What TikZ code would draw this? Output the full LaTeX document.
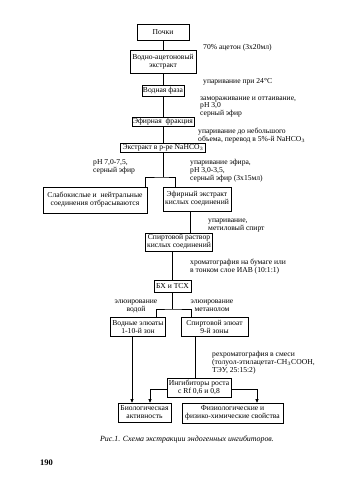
\documentclass[tikz,border=0pt]{standalone}
\usepackage{fontspec}
\setmainfont{Liberation Serif}
\usetikzlibrary{arrows.meta, calc}
\newcommand{\fs}{\fontsize{7.6}{8}\selectfont}
\tikzset{
  block/.style={draw, line width=0.75pt, inner sep=1pt, align=center, font=\fs},
  note/.style={inner sep=0pt, align=left, anchor=north west, font=\fs},
  cnote/.style={note, align=center, anchor=north},
  link/.style={line width=0.6pt},
  arr/.style={link, -{Triangle[length=3.4pt, width=3pt]}}
}
\begin{document}
\begin{tikzpicture}[x=1pt, y=-1pt]
\useasboundingbox[fill=white] (0,0) rectangle (346,480);
\node[block, minimum width=52pt, minimum height=16pt] (pochki) at (163,32) {Почки};
\node[block, minimum width=66pt, minimum height=23pt] (vodac) at (163,61.5) {Водно-ацетоновый\\экстракт};
\node[block, minimum width=39pt, minimum height=11pt] (vodfaza) at (163,91) {Водная фаза};
\node[block, minimum width=59pt, minimum height=9pt] (efirfr) at (163,122) {Эфирная\ \ фракция};
\node[block, minimum width=85pt, minimum height=9pt] (nahco) at (163,148) {Экстракт в р-ре NaHCO$_3$};
\node[block, minimum width=104pt, minimum height=26pt] (slabo) at (95,200) {Слабокислые и\ \ нейтральные\\соединения отбрасываются};
\node[block, minimum width=68pt, minimum height=24pt] (efirext) at (197,199) {Эфирный экстракт\\кислых соединений};
\node[block, minimum width=67pt, minimum height=18pt] (spirtr) at (179,242) {Спиртовой раствор\\кислых соединений};
\node[block, minimum width=37pt, minimum height=12pt] (bx) at (172.5,286) {БХ и ТСХ};
\node[block, minimum width=55pt, minimum height=19pt] (vodel) at (138,327) {Водные элюаты\\1-10-й зон};
\node[block, minimum width=67pt, minimum height=19pt] (spirel) at (214.5,327) {Спиртовой элюат\\9-й зоны};
\node[block, minimum width=64pt, minimum height=19pt] (ingib) at (199,387.5) {Ингибиторы роста\\с Rf 0,6 и 0,8};
\node[block, minimum width=53pt, minimum height=19pt] (bio) at (144.5,412.5) {Биологическая\\активность};
\node[block, minimum width=101pt, minimum height=20pt] (fiz) at (232.5,413) {Физиологические и\\физико-химические свойства};

\node[note] (acet) at (203,44.5) {70\% ацетон (3х20мл)};
\node[note] (evap) at (203,78.5) {упаривание при 24°C};
\node[note, font=\fontsize{7.6}{7.6}\selectfont] (freeze) at (200,96.5) {замораживание и оттаивание,\\pH 3,0\\серный эфир};
\node[note, font=\fontsize{7.6}{8.8}\selectfont] (transfer) at (198,127.5) {упаривание до небольшого\\объема, перевод в 5\%-й NaHCO$_3$};
\node[note] (ph7) at (93,159.5) {pH 7,0-7,5,\\серный эфир};
\node[note] (ph3) at (190,159.5) {упаривание эфира,\\pH 3,0-3,5,\\серный эфир (3х15мл)};
\node[note] (meth) at (208,218.5) {упаривание,\\метиловый спирт};
\node[note] (chrom) at (190,258.5) {хроматография на бумаге или\\в тонком слое ИАВ (10:1:1)};
\node[cnote] (water) at (136,299.5) {элюирование\\водой};
\node[cnote] (methanol) at (212,299.5) {элюирование\\метанолом};
\node[note] (rechrom) at (212,351.5) {рехроматография в смеси\\(толуол-этилацетат-CH$_3$COOH,\\ТЭУ, 25:15:2)};
\node[font=\fontsize{7.9}{9}\selectfont\itshape] (caption) at (187,440) {Рис.1. Схема экстракции эндогенных ингибиторов.};
\node[font=\fontsize{8.5}{10}\selectfont\bfseries, anchor=west, inner sep=0pt] (page) at (40,463) {190};

\draw[link] (pochki) -- (vodac);
\draw[link] (vodac) -- (vodfaza);
\draw[link] (vodfaza) -- (efirfr);
\draw[link] (efirfr) -- (nahco);
\coordinate (fork1) at (163,177);
\draw[link] (nahco) -- (fork1);
\draw[link] ([xshift=-2pt]slabo.north east) |- (fork1) -| ([xshift=13pt]efirext.north west);
\draw[link] ([xshift=-7pt]efirext.south) coordinate (e1) -- (e1 |- spirtr.north);
\draw[link] (bx.north) -- (bx.north |- spirtr.south);
\coordinate (fork2) at (172.5,309);
\draw[link] (bx) -- (fork2);
\draw[link] ([xshift=-10pt]vodel.north east) |- (fork2) -| ([xshift=11pt]spirel.north west);
\draw[link] ([xshift=-19.5pt]spirel.south) coordinate (s1) -- (s1 |- ingib.north);
\draw[arr] ([xshift=-6pt]vodel.south) coordinate (v1) -- (v1 |- bio.north);
\draw[arr] ([yshift=-1.5pt]ingib.west) -| ([xshift=5.5pt]bio.north);
\draw[arr] ([yshift=-1.5pt]ingib.east) -| ([xshift=24.5pt]fiz.north);
\end{tikzpicture}
\end{document}
